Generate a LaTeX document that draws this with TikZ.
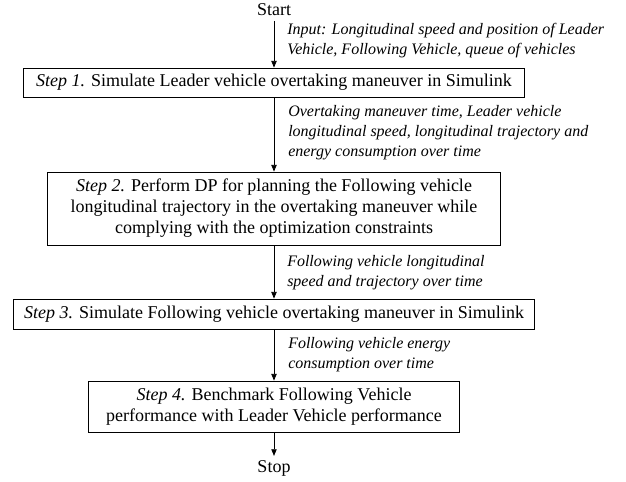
\documentclass[tikz,border=0pt]{standalone}
\usepackage{fontspec}
\setmainfont{Liberation Serif}
\usetikzlibrary{arrows.meta}
\newcommand{\boxfont}{\fontsize{13.5}{15.75}\selectfont}
\newcommand{\notefont}{\fontsize{12}{15}\selectfont\itshape}
\tikzset{
    stepbox/.style={draw, rectangle, align=center, line width=0.6pt, inner sep=0pt, font=\boxfont},
    term/.style={font=\boxfont},
    note/.style={anchor=west, align=left, inner sep=0pt, font=\notefont},
    flow/.style={-{Triangle[length=5pt, width=4pt]}, line width=0.6pt}
}
\begin{document}
\begin{tikzpicture}[x=0.75pt, y=0.75pt]
                \useasboundingbox (0,0) rectangle (626,-482);

                \path
                    (274,-10) node[term] (start) {Start}
                    to ++(270:72.5) node[stepbox, minimum width=375.75pt, minimum height=21.75pt] (step1)
                        {\textit{Step 1.} Simulate Leader vehicle overtaking maneuver in Simulink}
                    to ++(270:126) node[stepbox, minimum width=339.75pt, minimum height=54.75pt] (step2)
                        {\textit{Step 2.} Perform DP for planning the Following vehicle\\
                         longitudinal trajectory in the overtaking maneuver while\\
                         complying with the optimization constraints}
                    to ++(270:105.5) node[stepbox, minimum width=390.75pt, minimum height=22.5pt] (step3)
                        {\textit{Step 3.} Simulate Following vehicle overtaking maneuver in Simulink}
                    to ++(270:92.5) node[stepbox, minimum width=278.25pt, minimum height=38.25pt] (step4)
                        {\textit{Step 4.} Benchmark Following Vehicle\\
                         performance with Leader Vehicle performance}
                    to ++(270:62) node[term] (stop) {Stop};

                \draw[flow] (start) -- (step1);
                \draw[flow] (step1) -- (step2);
                \draw[flow] (step2) -- (step3);
                \draw[flow] (step3) -- (step4);
                \draw[flow] (step4) -- (stop);

                % labels next to the arrows
                \node[note] (in1) at (287,-41)
                    {Input: Longitudinal speed and position of Leader\\Vehicle, Following Vehicle, queue of vehicles};
                \node[note] (out1) at (288,-133)
                    {Overtaking maneuver time, Leader vehicle\\longitudinal speed, longitudinal trajectory and\\energy consumption over time};
                \node[note] (out2) at (287,-273)
                    {Following vehicle longitudinal\\speed and trajectory over time};
                \node[note] (out3) at (288,-354.5)
                    {Following vehicle energy\\consumption over time};
            \end{tikzpicture}
\end{document}
